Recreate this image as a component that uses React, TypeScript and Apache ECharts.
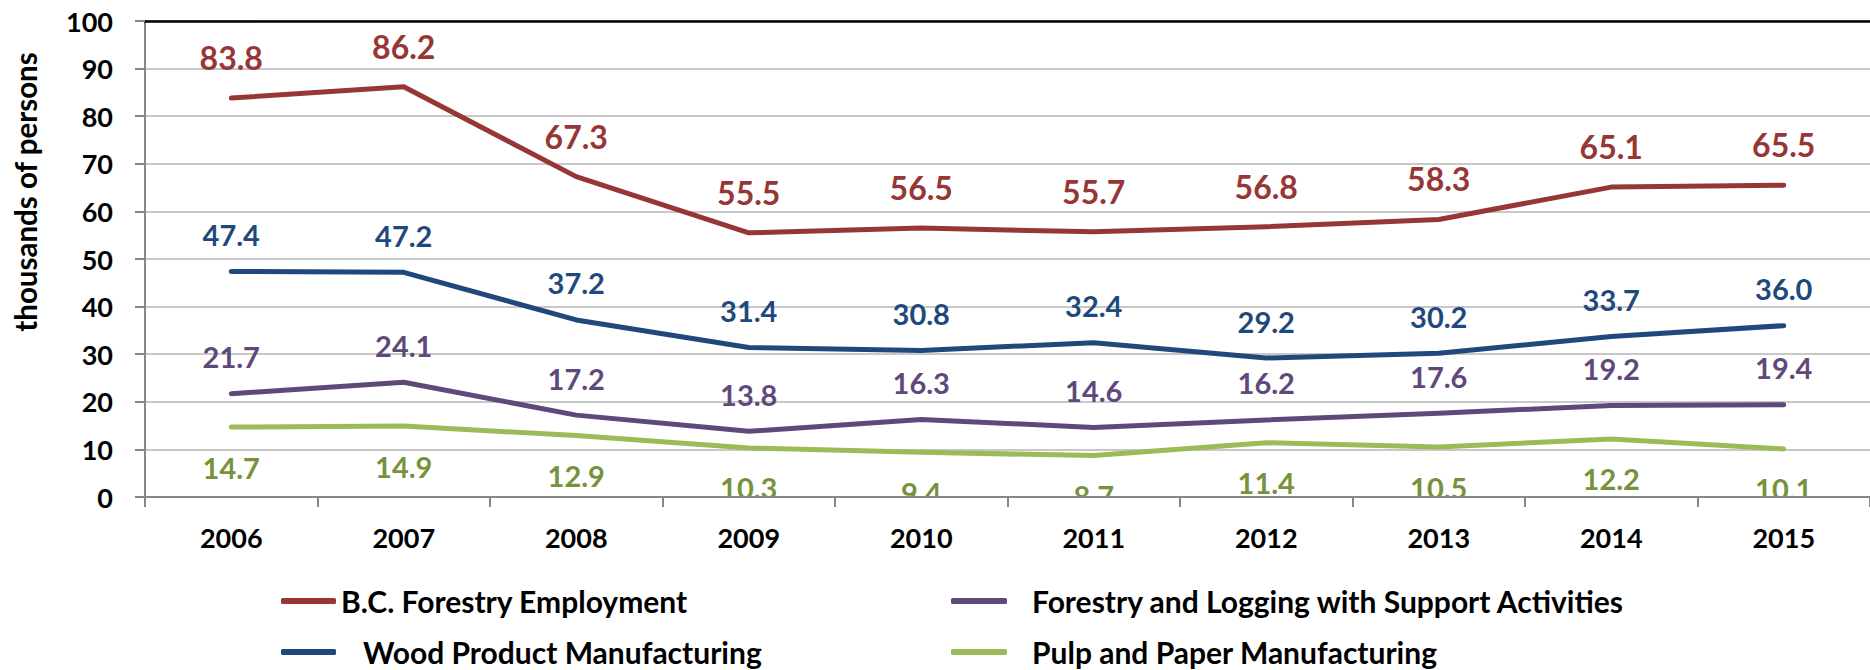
import React, { useEffect, useRef } from "react";
import * as echarts from "echarts";

const years = ["2006", "2007", "2008", "2009", "2010", "2011", "2012", "2013", "2014", "2015"];
const bcForestry = [83.8, 86.2, 67.3, 55.5, 56.5, 55.7, 56.8, 58.3, 65.1, 65.5];
const woodProduct = [47.4, 47.2, 37.2, 31.4, 30.8, 32.4, 29.2, 30.2, 33.7, 36.0];
const forestryLogging = [21.7, 24.1, 17.2, 13.8, 16.3, 14.6, 16.2, 17.6, 19.2, 19.4];
const pulpPaper = [14.7, 14.9, 12.9, 10.3, 9.4, 8.7, 11.4, 10.5, 12.2, 10.1];

const NAMES = [
  "B.C. Forestry Employment",
  "Wood Product Manufacturing",
  "Forestry and Logging with Support Activities",
  "Pulp and Paper Manufacturing",
];
const FONT = "Lato, 'Open Sans', sans-serif";

export default function App() {
  const ref = useRef<HTMLDivElement>(null);
  useEffect(() => {
    if (!ref.current) return;
    const chart = echarts.init(ref.current, undefined, { renderer: "svg" });
    const mkSeries = (
      name: string,
      data: number[],
      color: string,
      labelColor: string,
      fontSize: number,
      position: "top" | "bottom",
      distance: number
    ) => ({
      name,
      type: "line",
      data,
      symbol: "circle",
      symbolSize: 1,
      showSymbol: true,
      z: 2,
      lineStyle: { color, width: 5, cap: "round", join: "round" },
      itemStyle: { color },
      labelLayout: { hideOverlap: false },
      label: {
        show: true,
        position,
        distance,
        color: labelColor,
        fontFamily: FONT,
        fontWeight: "bold",
        fontSize,
        formatter: (p: any) => Number(p.value).toFixed(1),
      },
    });
    const legendBase = (name: string, left: number, top: number, w: number, pad: number) => ({
      data: [name],
      left,
      top,
      padding: 0,
      icon: "roundRect",
      itemWidth: w,
      itemHeight: 6,
      selectedMode: false,
      textStyle: {
        fontFamily: FONT,
        fontWeight: "bold",
        fontSize: 30,
        color: "#000",
        padding: [0, 0, 0, pad],
      },
    });
    chart.setOption({
      animation: false,
      backgroundColor: "#fff",
      grid: { left: 145, top: 21, right: -9, bottom: 173 },
      legend: [
        legendBase(NAMES[0], 281, 586, 55, 0),
        legendBase(NAMES[1], 281, 637, 55, 22),
        legendBase(NAMES[2], 951, 586, 56, 20),
        legendBase(NAMES[3], 951, 637, 56, 20),
      ],
      xAxis: [
        {
          type: "category",
          data: years,
          boundaryGap: true,
          z: 10,
          axisLine: { lineStyle: { color: "#878787", width: 2 } },
          axisTick: { show: true, length: 10, lineStyle: { color: "#878787", width: 2 } },
          axisLabel: {
            margin: 27,
            color: "#000",
            fontFamily: FONT,
            fontWeight: "bold",
            fontSize: 27,
          },
          splitLine: { show: false },
        },
        {
          type: "category",
          data: years,
          position: "top",
          boundaryGap: true,
          axisLine: { show: true, lineStyle: { color: "#000", width: 2.5 } },
          axisTick: { show: false },
          axisLabel: { show: false },
        },
      ],
      yAxis: {
        type: "value",
        min: 0,
        max: 100,
        interval: 10,
        axisLine: { show: true, lineStyle: { color: "#878787", width: 2 } },
        axisTick: { show: true, length: 10, lineStyle: { color: "#878787", width: 2 } },
        axisLabel: {
          margin: 32,
          color: "#000",
          fontFamily: FONT,
          fontWeight: "bold",
          fontSize: 27,
        },
        splitLine: { lineStyle: { color: "#C8C8C8", width: 2 } },
      },
      graphic: [
        {
          type: "text",
          x: 25,
          y: 192,
          rotation: Math.PI / 2,
          style: {
            text: "thousands of persons",
            fontFamily: FONT,
            fontWeight: "bold",
            fontSize: 29.5,
            fill: "#000",
            align: "center",
            verticalAlign: "middle",
          },
        },
        {
          type: "rect",
          z: 5,
          shape: { x: 146, y: 498, width: 1730, height: 22 },
          style: { fill: "#fff" },
        },
      ],
      series: [
        mkSeries(NAMES[0], bcForestry, "#963735", "#963735", 32, "top", 24),
        mkSeries(NAMES[1], woodProduct, "#1F497D", "#1F497D", 29, "top", 22),
        mkSeries(NAMES[2], forestryLogging, "#5F497A", "#5F497A", 29, "top", 22),
        mkSeries(NAMES[3], pulpPaper, "#9BBB59", "#76923C", 29, "bottom", 25),
      ],
    });
    return () => chart.dispose();
  }, []);
  return (
    <div
      ref={ref}
      style={{ position: "fixed", left: 0, top: 0, width: 1870, height: 670, background: "#fff" }}
    />
  );
}
